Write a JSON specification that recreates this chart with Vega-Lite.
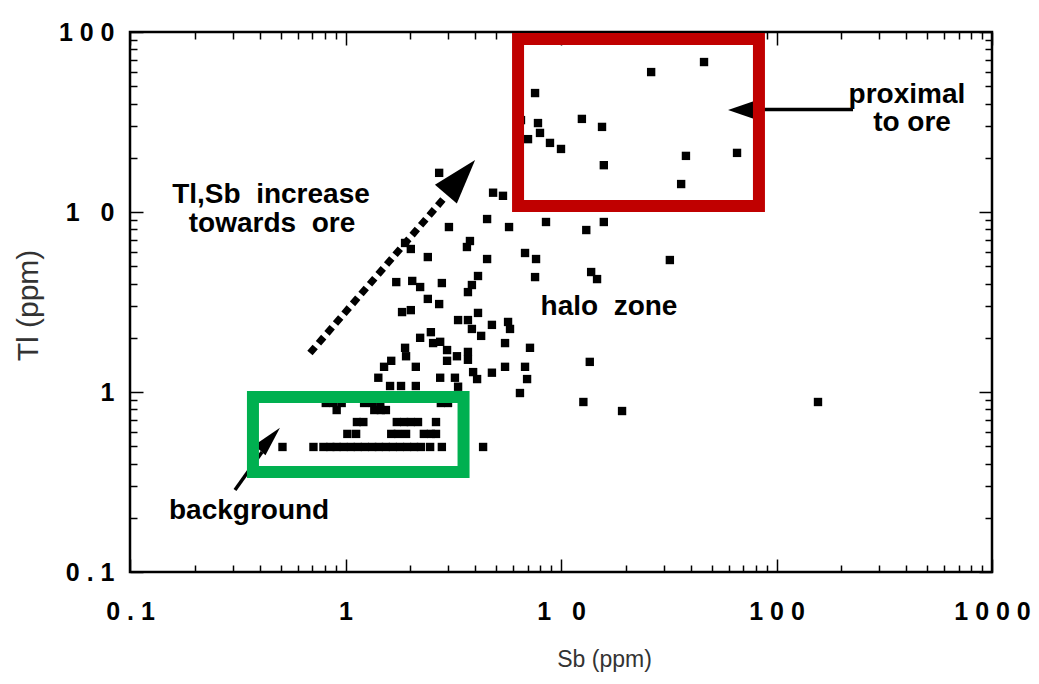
{
  "$schema": "https://vega.github.io/schema/vega-lite/v6.json",
  "width": 862,
  "height": 540,
  "autosize": {"type": "none"},
  "padding": {"left": 130, "top": 32, "right": 47, "bottom": 112},
  "background": "white",
  "config": {"view": {"stroke": "black", "strokeWidth": 2.5}},
  "resolve": {"axis": {"x": "independent", "y": "independent"}},
  "layer": [
    {
      "data": {"values": [
        {"Sb":7.58,"Tl":45.8},{"Sb":7.82,"Tl":31.2},{"Sb":7.99,"Tl":27.5},{"Sb":7.03,"Tl":25.4},{"Sb":8.89,"Tl":24.2},{"Sb":10.0,"Tl":22.4},{"Sb":12.5,"Tl":32.9},{"Sb":15.5,"Tl":29.7},{"Sb":15.8,"Tl":18.2},{"Sb":26.2,"Tl":59.9},{"Sb":46.1,"Tl":68.1},{"Sb":38.0,"Tl":20.5},{"Sb":65.6,"Tl":21.3},{"Sb":36.1,"Tl":14.3},{"Sb":6.52,"Tl":32.4},
        {"Sb":4.84,"Tl":12.8},{"Sb":5.38,"Tl":12.3},{"Sb":2.72,"Tl":16.5},{"Sb":4.54,"Tl":9.14},{"Sb":5.74,"Tl":8.25},{"Sb":8.52,"Tl":8.8},{"Sb":13.1,"Tl":7.94},{"Sb":15.8,"Tl":8.8},{"Sb":3.02,"Tl":8.25},{"Sb":3.78,"Tl":6.9},{"Sb":3.66,"Tl":6.39},{"Sb":1.89,"Tl":6.73},{"Sb":2.01,"Tl":6.23},{"Sb":2.41,"Tl":5.62},{"Sb":4.54,"Tl":5.48},{"Sb":6.81,"Tl":5.92},{"Sb":7.66,"Tl":5.48},{"Sb":7.58,"Tl":4.35},{"Sb":13.8,"Tl":4.64},{"Sb":14.7,"Tl":4.24},{"Sb":32.0,"Tl":5.41},
        {"Sb":4.12,"Tl":4.41},{"Sb":3.86,"Tl":3.93},{"Sb":3.7,"Tl":3.59},{"Sb":1.72,"Tl":4.08},{"Sb":2.04,"Tl":4.14},{"Sb":2.22,"Tl":3.83},{"Sb":2.8,"Tl":4.03},{"Sb":2.41,"Tl":3.29},{"Sb":2.72,"Tl":3.08},{"Sb":1.83,"Tl":2.78},{"Sb":2.01,"Tl":2.85},{"Sb":4.12,"Tl":2.75},{"Sb":3.33,"Tl":2.51},{"Sb":3.7,"Tl":2.51},{"Sb":3.86,"Tl":2.24},{"Sb":4.78,"Tl":2.36},{"Sb":5.68,"Tl":2.45},{"Sb":5.8,"Tl":2.24},
        {"Sb":2.22,"Tl":2.0},{"Sb":2.49,"Tl":2.15},{"Sb":2.55,"Tl":1.87},{"Sb":2.75,"Tl":1.9},{"Sb":4.26,"Tl":2.05},{"Sb":5.5,"Tl":1.87},{"Sb":7.18,"Tl":1.76},{"Sb":1.89,"Tl":1.76},{"Sb":1.91,"Tl":1.58},{"Sb":2.96,"Tl":1.71},{"Sb":3.29,"Tl":1.58},{"Sb":2.96,"Tl":1.49},{"Sb":3.7,"Tl":1.67},{"Sb":3.7,"Tl":1.51},{"Sb":1.63,"Tl":1.49},{"Sb":1.51,"Tl":1.38},{"Sb":2.12,"Tl":1.38},
        {"Sb":3.91,"Tl":1.29},{"Sb":4.08,"Tl":1.18},{"Sb":4.78,"Tl":1.28},{"Sb":5.5,"Tl":1.38},{"Sb":6.81,"Tl":1.38},{"Sb":6.96,"Tl":1.18},{"Sb":1.42,"Tl":1.2},{"Sb":2.75,"Tl":1.2},{"Sb":3.22,"Tl":1.2},{"Sb":3.33,"Tl":1.07},{"Sb":6.45,"Tl":0.987},{"Sb":1.61,"Tl":1.08},{"Sb":1.81,"Tl":1.08},{"Sb":2.12,"Tl":1.08},{"Sb":13.6,"Tl":1.47},{"Sb":12.7,"Tl":0.88},{"Sb":19.2,"Tl":0.784},{"Sb":155.8,"Tl":0.88},{"Sb":4.35,"Tl":0.495},
        {"Sb":0.51,"Tl":0.495},{"Sb":0.71,"Tl":0.495},{"Sb":0.79,"Tl":0.495},{"Sb":0.85,"Tl":0.495},{"Sb":0.91,"Tl":0.495},{"Sb":0.98,"Tl":0.495},{"Sb":1.06,"Tl":0.495},{"Sb":1.14,"Tl":0.495},{"Sb":1.23,"Tl":0.495},{"Sb":1.33,"Tl":0.495},{"Sb":1.43,"Tl":0.495},{"Sb":1.54,"Tl":0.495},{"Sb":1.66,"Tl":0.495},{"Sb":1.79,"Tl":0.495},{"Sb":1.93,"Tl":0.495},{"Sb":2.08,"Tl":0.495},{"Sb":2.24,"Tl":0.495},{"Sb":2.47,"Tl":0.495},{"Sb":2.8,"Tl":0.495},
        {"Sb":1.02,"Tl":0.585},{"Sb":1.12,"Tl":0.585},{"Sb":1.63,"Tl":0.585},{"Sb":1.75,"Tl":0.585},{"Sb":1.91,"Tl":0.585},{"Sb":2.31,"Tl":0.585},{"Sb":2.49,"Tl":0.585},{"Sb":2.63,"Tl":0.585},
        {"Sb":1.13,"Tl":0.681},{"Sb":1.21,"Tl":0.681},{"Sb":1.73,"Tl":0.681},{"Sb":1.87,"Tl":0.681},{"Sb":2.01,"Tl":0.681},{"Sb":2.17,"Tl":0.681},{"Sb":2.63,"Tl":0.681},
        {"Sb":0.91,"Tl":0.794},{"Sb":1.36,"Tl":0.794},{"Sb":1.46,"Tl":0.794},{"Sb":1.54,"Tl":0.794},
        {"Sb":0.81,"Tl":0.869},{"Sb":0.88,"Tl":0.869},{"Sb":0.96,"Tl":0.869},{"Sb":1.22,"Tl":0.869},{"Sb":1.33,"Tl":0.869},{"Sb":1.45,"Tl":0.869},{"Sb":2.77,"Tl":0.869},{"Sb":2.99,"Tl":0.869}
      ]},
      "mark": {"type": "point", "shape": "square", "filled": true, "size": 70, "color": "black", "opacity": 1, "strokeWidth": 0},
      "encoding": {
        "x": {"field": "Sb", "type": "quantitative", "scale": {"type": "log", "domain": [0.1, 1000], "nice": false},
          "axis": {"orient": "bottom", "values": [0.1, 1, 10, 100, 1000], "domain": false, "grid": false,
            "tickSize": -13, "tickColor": "black", "tickWidth": 1.5,
            "labelExpr": "datum.value < 0.5 ? '0 . 1' : datum.value < 5 ? '1' : datum.value < 50 ? '1\u00a0\u00a0\u00a00' : datum.value < 500 ? '1\u00a00\u00a00' : '1\u00a00\u00a00\u00a00'",
            "labelFont": "Liberation Sans", "labelFontWeight": "bold", "labelFontSize": 25, "labelColor": "black",
            "labelPadding": 40, "labelOverlap": false, "labelFlush": false, "labelBound": false,
            "title": "Sb (ppm)", "titleFont": "Liberation Sans",
            "titleFontSize": 23, "titleFontWeight": "normal", "titleColor": "#333333",
            "titleX": 474, "titleY": 87, "titleBaseline": "middle"}},
        "y": {"field": "Tl", "type": "quantitative", "scale": {"type": "log", "domain": [0.1, 100], "nice": false},
          "axis": {"orient": "left", "values": [0.1, 1, 10, 100], "domain": false, "grid": false,
            "tickSize": -13, "tickColor": "black", "tickWidth": 1.5,
            "labelExpr": "datum.value < 0.5 ? '0 . 1' : datum.value < 5 ? '1' : datum.value < 50 ? '1\u00a0\u00a0\u00a00' : '1\u00a00\u00a00'",
            "labelFont": "Liberation Sans", "labelFontWeight": "bold", "labelFontSize": 25, "labelColor": "black",
            "labelPadding": 29, "labelOverlap": false, "labelFlush": false, "labelBound": false,
            "title": "Tl (ppm)", "titleFont": "Liberation Sans", "titleFontSize": 30, "titleFontWeight": "normal",
            "titleColor": "#333333", "titleX": -102, "titleY": 273, "titleBaseline": "middle", "titleAngle": -90}}
      }
    },
    {
      "data": {"values": [{"Sb": 0.684, "Tl": 1.647}, {"Sb": 2.926, "Tl": 12.27}]},
      "mark": {"type": "line", "color": "black", "strokeWidth": 7, "strokeDash": [8, 5], "strokeCap": "butt"},
      "encoding": {
        "x": {"field": "Sb", "type": "quantitative", "scale": {"type": "log", "domain": [0.1, 1000], "nice": false},
          "axis": {"orient": "bottom", "values": [0.2,0.3,0.4,0.5,0.6,0.7,0.8,0.9,2,3,4,5,6,7,8,9,20,30,40,50,60,70,80,90,200,300,400,500,600,700,800,900],
            "domain": false, "grid": false, "labels": false, "title": null, "tickSize": -7, "tickColor": "black", "tickWidth": 1.5}},
        "y": {"field": "Tl", "type": "quantitative", "scale": {"type": "log", "domain": [0.1, 100], "nice": false},
          "axis": {"orient": "left", "values": [0.2,0.3,0.4,0.5,0.6,0.7,0.8,0.9,2,3,4,5,6,7,8,9,20,30,40,50,60,70,80,90],
            "domain": false, "grid": false, "labels": false, "title": null, "tickSize": -7, "tickColor": "black", "tickWidth": 1.5}}
      }
    },
    {
      "data": {"values": [
        {"arrow": "background", "Sb": 0.307, "Tl": 0.2855}, {"arrow": "background", "Sb": 0.41, "Tl": 0.464},
        {"arrow": "proximal", "Sb": 75.3, "Tl": 37.1}, {"arrow": "proximal", "Sb": 226.5, "Tl": 37.1}
      ]},
      "mark": {"type": "line", "color": "black", "strokeWidth": 3.5},
      "encoding": {
        "detail": {"field": "arrow", "type": "nominal"},
        "x": {"field": "Sb", "type": "quantitative", "scale": {"type": "log", "domain": [0.1, 1000], "nice": false},
          "axis": {"orient": "top", "values": [0.1, 1, 10, 100, 1000], "domain": false, "grid": false, "labels": false, "title": null, "tickSize": -13, "tickColor": "black", "tickWidth": 1.5}},
        "y": {"field": "Tl", "type": "quantitative", "scale": {"type": "log", "domain": [0.1, 100], "nice": false},
          "axis": {"orient": "right", "values": [0.1, 1, 10, 100], "domain": false, "grid": false, "labels": false, "title": null, "tickSize": -13, "tickColor": "black", "tickWidth": 1.5}}
      }
    },
    {
      "data": {"values": [{"Sb": 3.417, "Tl": 15.65}]},
      "mark": {"type": "point", "shape": "M0,-1L0.64,1L-0.64,1Z", "size": 2025, "angle": 40.5, "filled": true, "color": "black", "opacity": 1, "strokeWidth": 0},
      "encoding": {
        "x": {"field": "Sb", "type": "quantitative", "scale": {"type": "log", "domain": [0.1, 1000], "nice": false},
          "axis": {"orient": "top", "values": [0.2,0.3,0.4,0.5,0.6,0.7,0.8,0.9,2,3,4,5,6,7,8,9,20,30,40,50,60,70,80,90,200,300,400,500,600,700,800,900],
            "domain": false, "grid": false, "labels": false, "title": null, "tickSize": -7, "tickColor": "black", "tickWidth": 1.5}},
        "y": {"field": "Tl", "type": "quantitative", "scale": {"type": "log", "domain": [0.1, 100], "nice": false},
          "axis": {"orient": "right", "values": [0.2,0.3,0.4,0.5,0.6,0.7,0.8,0.9,2,3,4,5,6,7,8,9,20,30,40,50,60,70,80,90],
            "domain": false, "grid": false, "labels": false, "title": null, "tickSize": -7, "tickColor": "black", "tickWidth": 1.5}}
      }
    },
    {
      "data": {"values": [{"Sb": 0.446, "Tl": 0.548}]},
      "mark": {"type": "point", "shape": "M0,-1L0.5,1L-0.5,1Z", "size": 900, "angle": 42, "filled": true, "color": "black", "opacity": 1, "strokeWidth": 0},
      "encoding": {
        "x": {"field": "Sb", "type": "quantitative", "scale": {"type": "log", "domain": [0.1, 1000], "nice": false}, "axis": null},
        "y": {"field": "Tl", "type": "quantitative", "scale": {"type": "log", "domain": [0.1, 100], "nice": false}, "axis": null}
      }
    },
    {
      "data": {"values": [{"Sb": 70.7, "Tl": 36.9}]},
      "mark": {"type": "point", "shape": "M0,-1L0.69,1L-0.69,1Z", "size": 1024, "angle": 270, "filled": true, "color": "black", "opacity": 1, "strokeWidth": 0},
      "encoding": {
        "x": {"field": "Sb", "type": "quantitative", "scale": {"type": "log", "domain": [0.1, 1000], "nice": false}, "axis": null},
        "y": {"field": "Tl", "type": "quantitative", "scale": {"type": "log", "domain": [0.1, 100], "nice": false}, "axis": null}
      }
    },
    {
      "data": {"values": [
        {"label": "Tl,Sb\u00a0\u00a0increase", "Sb": 0.451, "Tl": 12.43},
        {"label": "towards\u00a0\u00a0ore", "Sb": 0.456, "Tl": 8.58},
        {"label": "halo\u00a0\u00a0zone", "Sb": 16.7, "Tl": 2.967},
        {"label": "proximal", "Sb": 403, "Tl": 44.67},
        {"label": "to ore", "Sb": 425.5, "Tl": 31.23},
        {"label": "background", "Sb": 0.357, "Tl": 0.217}
      ]},
      "mark": {"type": "text", "font": "Liberation Sans", "fontWeight": "bold", "fontSize": 28, "align": "center", "baseline": "middle", "color": "black"},
      "encoding": {
        "text": {"field": "label", "type": "nominal"},
        "x": {"field": "Sb", "type": "quantitative", "scale": {"type": "log", "domain": [0.1, 1000], "nice": false}, "axis": null},
        "y": {"field": "Tl", "type": "quantitative", "scale": {"type": "log", "domain": [0.1, 100], "nice": false}, "axis": null}
      }
    },
    {
      "data": {"values": [
        {"zone": "proximal", "Sb1": 6.32, "Sb2": 82.9, "Tl1": 91.4, "Tl2": 10.8},
        {"zone": "background", "Sb1": 0.372, "Sb2": 3.53, "Tl1": 0.938, "Tl2": 0.359}
      ]},
      "mark": {"type": "rect", "filled": false, "strokeWidth": 12, "strokeJoin": "miter"},
      "encoding": {
        "x": {"field": "Sb1", "type": "quantitative", "scale": {"type": "log", "domain": [0.1, 1000], "nice": false}, "axis": null},
        "x2": {"field": "Sb2"},
        "y": {"field": "Tl1", "type": "quantitative", "scale": {"type": "log", "domain": [0.1, 100], "nice": false}, "axis": null},
        "y2": {"field": "Tl2"},
        "color": {"field": "zone", "type": "nominal", "scale": {"domain": ["proximal", "background"], "range": ["#C00000", "#00B050"]}, "legend": null}
      }
    }
  ]
}
